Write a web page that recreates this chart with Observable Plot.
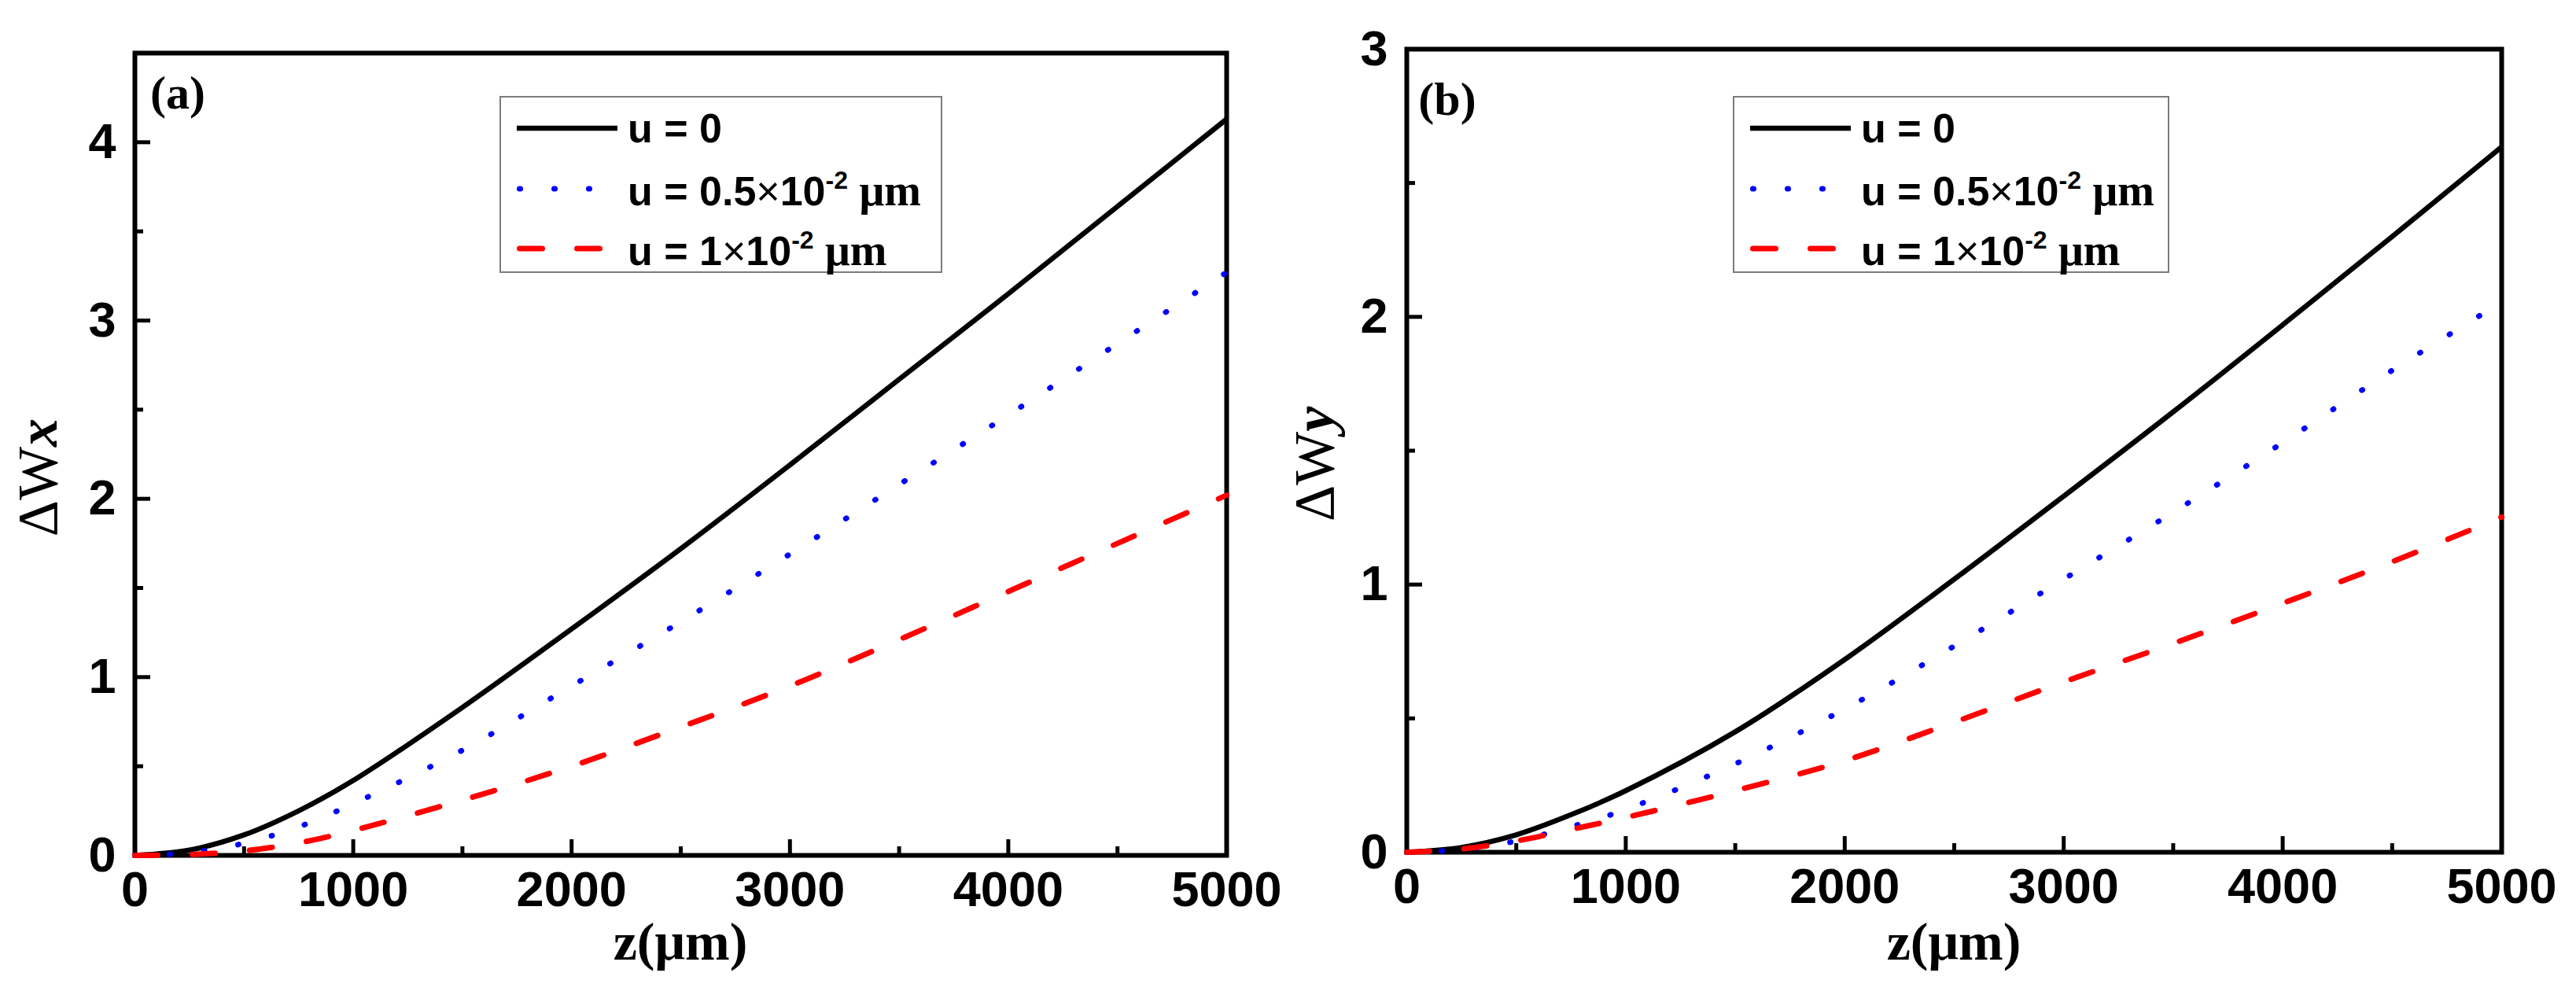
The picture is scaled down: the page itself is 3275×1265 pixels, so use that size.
<!DOCTYPE html>
<html>
<head>
<meta charset="utf-8">
<script src="https://cdn.jsdelivr.net/npm/d3@7"></script>
<script src="https://cdn.jsdelivr.net/npm/@observablehq/plot@0.6"></script>
<style>
html, body { margin: 0; padding: 0; background: #fff; }
#wrap { position: relative; width: 3275px; height: 1265px; overflow: hidden; background: #fff; }
.panel { position: absolute; top: 0; }
.legend { position: absolute; border: 2px solid #7c7c7c; background: #fff; box-sizing: border-box; }
.legend .sw { position: absolute; left: 0; }
.legend .lab { position: absolute; font-family: 'Liberation Sans', Arial, sans-serif; font-weight: bold; font-size: 52px; white-space: nowrap; line-height: 1; color: #000; }
.legend .tm { font-family: 'Liberation Serif', 'Times New Roman', serif; font-weight: bold; font-size: 56px; }
.legend .mul { font-weight: normal; }
.legend sup { font-size: 32px; vertical-align: baseline; position: relative; top: -21px; }
</style>
</head>
<body>
<div id="wrap"></div>
<script>
// ---------- data ----------
const zValues = [0, 250, 500, 750, 1000, 1500, 2000, 2500, 3000, 3500, 4000, 4500, 5000];

// panel (a): ΔWx
const wxU0   = [0, 0.03, 0.115, 0.25, 0.42, 0.83, 1.27, 1.72, 2.19, 2.67, 3.15, 3.64, 4.13];
const wxU05  = [0, 0.015, 0.068, 0.16, 0.29, 0.59, 0.95, 1.31, 1.69, 2.08, 2.47, 2.87, 3.27];
const wxU1   = [0, 0.005, 0.025, 0.07, 0.14, 0.31, 0.50, 0.72, 0.95, 1.21, 1.48, 1.75, 2.02];

// panel (b): ΔWy
const wyU0   = [0, 0.018, 0.065, 0.14, 0.23, 0.45, 0.72, 1.02, 1.33, 1.645, 1.97, 2.30, 2.635];
const wyU05  = [0, 0.01, 0.042, 0.095, 0.16, 0.33, 0.535, 0.77, 1.02, 1.27, 1.53, 1.80, 2.055];
const wyU1   = [0, 0.012, 0.042, 0.085, 0.13, 0.23, 0.342, 0.486, 0.636, 0.78, 0.93, 1.085, 1.252];

const seriesKeys   = ["u0", "u05", "u1"];
const seriesColors = ["#000000", "#0000ff", "#ff0000"];
const seriesDash   = [null, "1,43", "29,44"];
const seriesWidth  = [6.5, 7, 7];

const xTicks  = [0, 1000, 2000, 3000, 4000, 5000];
const xMinor  = [500, 1500, 2500, 3500, 4500];
const yTicksA = [0, 1, 2, 3, 4];
const yMinorA = [0.5, 1.5, 2.5, 3.5];
const yTicksB = [0, 1, 2, 3];
const yMinorB = [0.5, 1.5, 2.5];

// ---------- helpers ----------
function tidy(valsList) {
  const rows = [];
  valsList.forEach((vals, s) => vals.forEach((v, i) => rows.push({z: zValues[i], v, s: seriesKeys[s]})));
  return rows;
}

function makePanel(cfg) {
  const innerW = cfg.width - cfg.ml - cfg.mr;
  const innerH = 1265 - cfg.mt - cfg.mb;
  const rows = tidy(cfg.series);
  const lineMarks = seriesKeys.map((k, i) =>
    Plot.line(rows.filter(d => d.s === k), {
      x: "z", y: "v",
      stroke: seriesColors[i],
      strokeWidth: seriesWidth[i],
      strokeDasharray: seriesDash[i],
      strokeLinecap: i === 0 ? "butt" : "round",
      curve: "catmull-rom"
    })
  );
  const svg = Plot.plot({
    width: cfg.width,
    height: 1265,
    marginLeft: cfg.ml, marginRight: cfg.mr, marginTop: cfg.mt, marginBottom: cfg.mb,
    style: {fontFamily: "'Liberation Sans', Arial, sans-serif", fontWeight: "bold", fontSize: "63px", color: "#000", background: "transparent", overflow: "visible"},
    x: {domain: [0, 5000]},
    y: {domain: cfg.yDomain},
    marks: [
      Plot.axisX(xTicks, {tickSize: 0, tickPadding: 20, label: null, tickFormat: d => String(d), fontSize: 63, fontWeight: "bold"}),
      Plot.axisY(cfg.yTicks, {tickSize: 0, tickPadding: 24, label: null, tickFormat: d => String(d), fontSize: 63, fontWeight: "bold"}),
      Plot.ruleX(xTicks, {x: d => d, insetTop: innerH - 20, stroke: "#000", strokeWidth: 5}),
      Plot.ruleX(xMinor, {x: d => d, insetTop: innerH - 11, stroke: "#000", strokeWidth: 5}),
      Plot.ruleY(cfg.yTicks, {y: d => d, insetRight: innerW - 20, stroke: "#000", strokeWidth: 5}),
      Plot.ruleY(cfg.yMinor, {y: d => d, insetRight: innerW - 11, stroke: "#000", strokeWidth: 5}),
      Plot.frame({stroke: "#000", strokeWidth: 6}),
      ...lineMarks
    ]
  });
  svg.classList.add("panel");
  svg.style.left = cfg.left + "px";
  const s = d3.select(svg);
  // x-axis title
  s.append("text")
    .attr("x", cfg.ml + innerW / 2).attr("y", 1220)
    .attr("text-anchor", "middle")
    .style("font-family", "'Liberation Serif', 'Times New Roman', serif")
    .style("font-weight", "bold").style("font-size", "68px")
    .text("z(μm)");
  // y-axis title
  const yt = s.append("text")
    .attr("transform", `translate(${cfg.yLabelX},${cfg.yLabelY}) rotate(-90)`)
    .attr("text-anchor", "middle")
    .style("font-family", "'Liberation Serif', 'Times New Roman', serif")
    .style("font-size", "72px").style("font-weight", "normal");
  yt.append("tspan").text("ΔW");
  yt.append("tspan").style("font-style", "italic").style("font-weight", "bold").text(cfg.yVar);
  // panel tag
  s.append("text")
    .attr("x", cfg.tagX).attr("y", cfg.tagY)
    .style("font-family", "'Liberation Serif', 'Times New Roman', serif")
    .style("font-weight", "bold").style("font-size", "60px")
    .text(cfg.tag);
  return svg;
}

const legendTexts = [
  ["u = 0"],
  ["u = 0.5", "×", "10", "-2", "μm"],
  ["u = 1", "×", "10", "-2", "μm"]
];

function makeLegend(left, top, width) {
  const div = document.createElement("div");
  div.className = "legend";
  div.style.left = left + "px";
  div.style.top = top + "px";
  div.style.width = width + "px";
  div.style.height = "225px";
  const rowY = [41, 118, 194];
  seriesKeys.forEach((k, i) => {
    const sw = document.createElementNS("http://www.w3.org/2000/svg", "svg");
    sw.setAttribute("class", "sw");
    sw.setAttribute("width", 170);
    sw.setAttribute("height", 30);
    sw.style.top = (rowY[i] - 15 - 2) + "px";
    const ln = document.createElementNS("http://www.w3.org/2000/svg", "line");
    const cap = i === 0 ? 0 : 3.5;
    ln.setAttribute("x1", 20 + cap);
    ln.setAttribute("x2", 148 - cap);
    ln.setAttribute("y1", 15);
    ln.setAttribute("y2", 15);
    ln.setAttribute("stroke", seriesColors[i]);
    ln.setAttribute("stroke-width", seriesWidth[i]);
    if (seriesDash[i]) ln.setAttribute("stroke-dasharray", seriesDash[i]);
    ln.setAttribute("stroke-linecap", i === 0 ? "butt" : "round");
    sw.appendChild(ln);
    div.appendChild(sw);
    const lab = document.createElement("div");
    lab.className = "lab";
    lab.style.left = "161px";
    lab.style.top = (rowY[i] - 26 - 2) + "px";
    const t = legendTexts[i];
    const span0 = document.createElement("span");
    span0.textContent = t[0];
    lab.appendChild(span0);
    if (t.length > 1) {
      const mul = document.createElement("span"); mul.className = "mul"; mul.textContent = t[1]; lab.appendChild(mul);
      const ten = document.createElement("span"); ten.textContent = t[2]; lab.appendChild(ten);
      const sup = document.createElement("sup"); sup.textContent = t[3]; lab.appendChild(sup);
      lab.appendChild(document.createTextNode(" "));
      const um = document.createElement("span"); um.className = "tm"; um.textContent = t[4]; lab.appendChild(um);
    }
    div.appendChild(lab);
  });
  return div;
}

const wrap = document.getElementById("wrap");

wrap.appendChild(makePanel({
  left: 0, width: 1637, ml: 171, mr: 78, mt: 67, mb: 178,
  yDomain: [0, 4.5], yTicks: yTicksA, yMinor: yMinorA,
  series: [wxU0, wxU05, wxU1],
  yLabelX: 72, yLabelY: 607, yVar: "x",
  tag: "(a)", tagX: 226, tagY: 138
}));

wrap.appendChild(makePanel({
  left: 1637, width: 1638, ml: 151, mr: 95, mt: 62, mb: 182,
  yDomain: [0, 3], yTicks: yTicksB, yMinor: yMinorB,
  series: [wyU0, wyU05, wyU1],
  yLabelX: 58, yLabelY: 590, yVar: "y",
  tag: "(b)", tagX: 203, tagY: 146
}));

wrap.appendChild(makeLegend(635, 122, 563));
wrap.appendChild(makeLegend(2203, 122, 555));
</script>
</body>
</html>
